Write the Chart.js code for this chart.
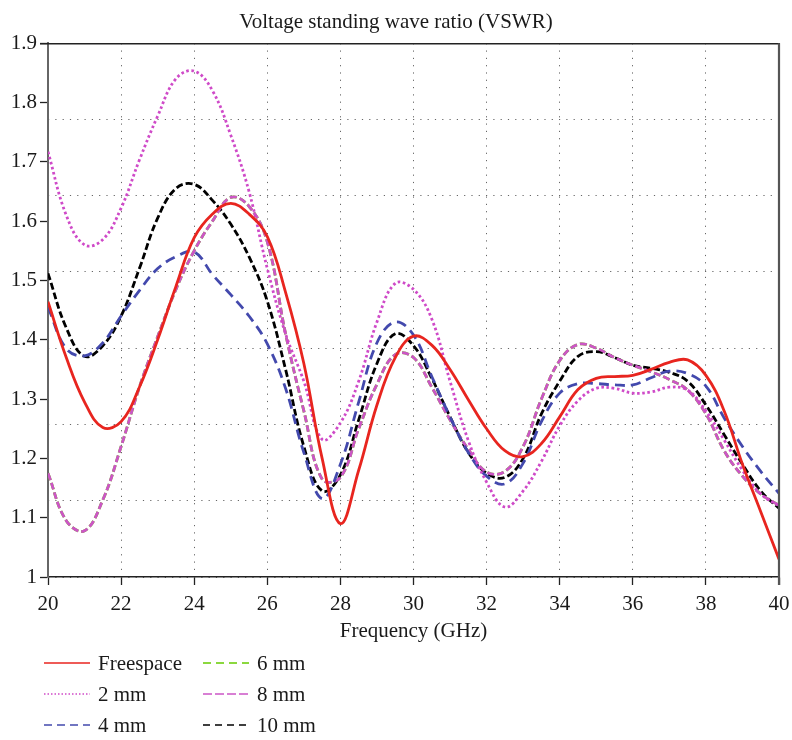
<!DOCTYPE html>
<html>
<head>
<meta charset="utf-8">
<title>VSWR</title>
<script src="https://cdn.jsdelivr.net/npm/chart.js@4.4.1/dist/chart.umd.min.js"></script>
<style>
    html, body { margin: 0; padding: 0; background: #fff; }
    #wrap { width: 792px; height: 740px; }
</style>
</head>
<body>
<div id="wrap"><canvas id="vswrChart" width="792" height="740"></canvas></div>
<script>
// Frequency samples (GHz), every 0.5 GHz
const freq = [20, 20.5, 21, 21.5, 22, 22.5, 23, 23.5, 24, 24.5,
              25, 25.5, 26, 26.5, 27, 27.5, 28, 28.5, 29, 29.5,
              30, 30.5, 31, 31.5, 32, 32.5, 33, 33.5, 34, 34.5,
              35, 35.5, 36, 36.5, 37, 37.5, 38, 38.5, 39, 39.5, 40];

const freespace = [1.464, 1.37, 1.295, 1.252, 1.262, 1.32, 1.40, 1.49, 1.572, 1.612,
                   1.630, 1.612, 1.574, 1.48, 1.36, 1.20, 1.09, 1.18, 1.29, 1.37,
                   1.406, 1.391, 1.35, 1.299, 1.25, 1.213, 1.203, 1.225, 1.27, 1.316,
                   1.335, 1.338, 1.340, 1.35, 1.362, 1.366, 1.34, 1.28, 1.19, 1.11, 1.03];

const mm2 = [1.717, 1.61, 1.56, 1.569, 1.622, 1.703, 1.777, 1.84, 1.853, 1.82,
             1.745, 1.65, 1.52, 1.41, 1.33, 1.232, 1.26, 1.33, 1.43, 1.495,
             1.485, 1.435, 1.33, 1.23, 1.16, 1.118, 1.145, 1.195, 1.255, 1.297,
             1.318, 1.318, 1.31, 1.312, 1.32, 1.315, 1.28, 1.231, 1.18, 1.14, 1.12];

const mm4 = [1.455, 1.385, 1.373, 1.395, 1.44, 1.483, 1.52, 1.54, 1.548, 1.51,
             1.476, 1.44, 1.393, 1.318, 1.21, 1.132, 1.19, 1.295, 1.395, 1.43,
             1.408, 1.338, 1.27, 1.21, 1.17, 1.157, 1.192, 1.262, 1.31, 1.326,
             1.326, 1.324, 1.324, 1.336, 1.347, 1.343, 1.322, 1.268, 1.22, 1.178, 1.141];

const mm6 = [1.175, 1.095, 1.078, 1.13, 1.22, 1.32, 1.405, 1.485, 1.55, 1.60,
             1.64, 1.625, 1.565, 1.41, 1.28, 1.165, 1.168, 1.25, 1.325, 1.375,
             1.37, 1.32, 1.265, 1.215, 1.177, 1.178, 1.22, 1.30, 1.365, 1.392,
             1.386, 1.37, 1.357, 1.346, 1.333, 1.315, 1.275, 1.213, 1.17, 1.14, 1.121];

const mm8 = [1.175, 1.095, 1.078, 1.13, 1.22, 1.32, 1.405, 1.485, 1.55, 1.60,
             1.64, 1.625, 1.565, 1.41, 1.28, 1.165, 1.168, 1.25, 1.325, 1.375,
             1.37, 1.32, 1.265, 1.215, 1.177, 1.178, 1.22, 1.30, 1.365, 1.392,
             1.386, 1.37, 1.357, 1.346, 1.333, 1.315, 1.275, 1.213, 1.17, 1.14, 1.121];

const mm10 = [1.512, 1.42, 1.372, 1.39, 1.44, 1.52, 1.605, 1.655, 1.662, 1.635,
              1.595, 1.54, 1.465, 1.35, 1.22, 1.145, 1.172, 1.265, 1.36, 1.41,
              1.39, 1.335, 1.27, 1.21, 1.175, 1.168, 1.20, 1.275, 1.33, 1.372,
              1.38, 1.37, 1.357, 1.352, 1.345, 1.33, 1.29, 1.24, 1.19, 1.145, 1.116];

const seriesNames = ['Freespace', '2 mm', '4 mm', '6 mm', '8 mm', '10 mm'];
const seriesData = [freespace, mm2, mm4, mm6, mm8, mm10];
const seriesColors = ['#e8251f', '#cf4ac8', '#4349ad', '#66cc00', '#cc55c6', '#000000'];
const seriesDash = [[], [2.6, 2.6], [10, 6], [7, 3], [7, 3], [7, 3]];
const legendDash = [[], [1.5, 2], [8, 5], [8, 5], [9, 3], [7, 5]];

const serif = 'Liberation Serif, Times New Roman, serif';
const textColor = '#1a1a1a';

Chart.defaults.font.family = serif;
Chart.defaults.color = textColor;

function points(values) {
    return freq.map((f, i) => ({x: f, y: values[i]}));
}

const datasets = seriesNames.map((name, i) => ({
    label: name,
    data: points(seriesData[i]),
    borderColor: seriesColors[i],
    borderDash: seriesDash[i],
    borderWidth: 2.8,
    pointRadius: 0,
    tension: 0.4,
    fill: false,
    // 6 mm sits underneath 8 mm
    order: name === '6 mm' ? 1 : 0
}));

// Two-column legend under the x axis title
const gridLegend = {
    id: 'gridLegend',
    afterDraw(chart) {
        const ctx = chart.ctx;
        const top = chart.chartArea.bottom + 86;
        chart.data.datasets.forEach((ds, i) => {
            const col = Math.floor(i / 3);
            const row = i % 3;
            const x = 44 + col * 159;
            const y = top + row * 31;
            ctx.save();
            ctx.strokeStyle = ds.borderColor;
            ctx.lineWidth = 1.6;
            ctx.setLineDash(legendDash[i]);
            ctx.beginPath();
            ctx.moveTo(x, y);
            ctx.lineTo(x + 46, y);
            ctx.stroke();
            ctx.setLineDash([]);
            ctx.fillStyle = textColor;
            ctx.font = '21px ' + serif;
            ctx.textBaseline = 'middle';
            ctx.fillText(ds.label, x + 54, y + 1);
            ctx.restore();
        });
    }
};

// Top and right edges of the plot frame
const frame = {
    id: 'frame',
    afterDraw(chart) {
        const {left, right, top, bottom} = chart.chartArea;
        const ctx = chart.ctx;
        ctx.save();
        ctx.strokeStyle = '#222';
        ctx.lineWidth = 1.6;
        ctx.beginPath();
        ctx.moveTo(left - 8, top + 0.5);
        ctx.lineTo(right + 1, top + 0.5);
        ctx.stroke();
        ctx.strokeStyle = '#555';
        ctx.lineWidth = 2.2;
        ctx.beginPath();
        ctx.moveTo(right, top);
        ctx.lineTo(right, bottom + 8);
        ctx.stroke();
        ctx.restore();
    }
};

const ctx = document.getElementById('vswrChart').getContext('2d');
new Chart(ctx, {
    type: 'line',
    data: {datasets: datasets},
    plugins: [gridLegend, frame],
    options: {
        responsive: false,
        animation: false,
        devicePixelRatio: 1,
        layout: {padding: {left: 0, right: 0, top: 0, bottom: 96}},
        plugins: {
            legend: {display: false},
            tooltip: {enabled: false},
            title: {
                display: true,
                text: 'Voltage standing wave ratio (VSWR)',
                color: textColor,
                font: {size: 21, weight: 'normal', lineHeight: 1.2},
                padding: {top: 10, bottom: 8}
            }
        },
        scales: {
            x: {
                type: 'linear',
                min: 20,
                max: 40,
                afterFit: s => {
                    s.height = 67;
                    s.paddingLeft = 0;
                    s.paddingRight = 0;
                },
                ticks: {stepSize: 2, padding: 7, color: textColor, font: {size: 21}, maxRotation: 0},
                grid: {color: '#666', lineWidth: 1, tickLength: 8, tickColor: '#222', tickWidth: 1.3,
                       borderDash: [1.2, 6.1]},
                border: {color: '#222', width: 1.6, dash: [1.2, 6.1]},
                title: {display: true, text: 'Frequency (GHz)', color: textColor,
                        font: {size: 21}, padding: {top: 0, bottom: 0}}
            },
            y: {
                min: 1,
                max: 1.9,
                afterFit: s => { s.width = 48; },
                ticks: {stepSize: 0.1, padding: 3, color: textColor, font: {size: 21},
                        callback: v => String(+v.toFixed(1))},
                grid: {drawOnChartArea: false, tickLength: 8, tickColor: '#222', tickWidth: 1.3},
                border: {color: '#666', width: 2}
            },
            // dotted horizontal grid, seven equal divisions of the plot height;
            // its fixed width also sets the gap right of the plot
            yGrid: {
                position: 'right',
                min: 0,
                max: 7,
                afterFit: s => { s.width = 13; },
                ticks: {display: false, stepSize: 1},
                grid: {drawTicks: false, color: '#666', lineWidth: 1, borderDash: [1.2, 6.1]},
                border: {display: false, dash: [1.2, 6.1]}
            }
        }
    }
});
</script>
</body>
</html>
